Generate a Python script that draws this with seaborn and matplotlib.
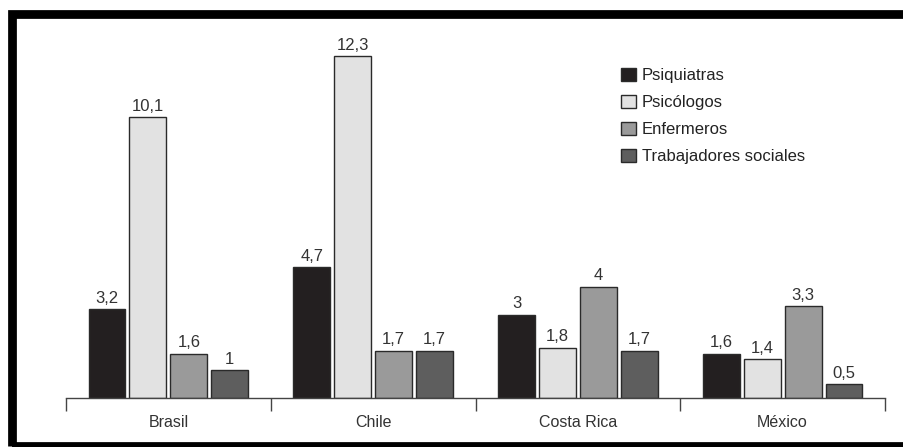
import matplotlib
matplotlib.use("Agg")
import matplotlib.pyplot as plt
import seaborn as sns
import pandas as pd
from matplotlib.patches import Rectangle

countries = ["Brasil", "Chile", "Costa Rica", "México"]
professions = ["Psiquiatras", "Psicólogos", "Enfermeros", "Trabajadores sociales"]
psiquiatras = [3.2, 4.7, 3.0, 1.6]
psicologos = [10.1, 12.3, 1.8, 1.4]
enfermeros = [1.6, 1.7, 4.0, 3.3]
trabajadores = [1.0, 1.7, 1.7, 0.5]

series = [psiquiatras, psicologos, enfermeros, trabajadores]
rows = []
for prof, vals in zip(professions, series):
    for c, v in zip(countries, vals):
        rows.append({"País": c, "Profesión": prof, "Valor": v})
df = pd.DataFrame(rows)

palette = {"Psiquiatras": "#231f20", "Psicólogos": "#e2e2e2",
           "Enfermeros": "#9a9a9a", "Trabajadores sociales": "#5e5e5e"}

sns.set_theme(style="white")
plt.rcParams['font.family'] = ['Liberation Sans', 'DejaVu Sans']

W, H = 904, 447
fig = plt.figure(figsize=(W / 100, H / 100), dpi=100)
ax_left, ax_right = 66, 885
ax_bottom_px = 398
ymax = 13.5
px_per_unit = 27.8
ax_top_px = ax_bottom_px - ymax * px_per_unit
ax = fig.add_axes([ax_left / W, 1 - ax_bottom_px / H,
                   (ax_right - ax_left) / W, (ax_bottom_px - ax_top_px) / H])

sns.barplot(data=df, x="País", y="Valor", hue="Profesión", order=countries,
            hue_order=professions, palette=palette, width=0.8, gap=0.1,
            edgecolor="#2a2a2a", linewidth=1.0, saturation=1, ax=ax,
            errorbar=None)

for cont in ax.containers:
    labels = [f"{v:g}".replace(".", ",") for v in cont.datavalues]
    ax.bar_label(cont, labels=labels, padding=2.5, fontsize=12, color="#333333")

ax.set_xlim(-0.5, 3.5)
ax.set_ylim(0, ymax)
ax.set_xlabel("")
ax.set_ylabel("")
ax.set_yticks([])
for s in ["top", "right", "left"]:
    ax.spines[s].set_visible(False)
ax.spines["bottom"].set_color("#444444")
ax.spines["bottom"].set_linewidth(1.0)
ax.set_xticks([-0.5, 0.5, 1.5, 2.5, 3.5], minor=True)
ax.tick_params(axis="x", which="minor", bottom=True, length=9, width=1.0,
               color="#444444", direction="out")
ax.tick_params(axis="x", which="major", length=0, pad=12, labelsize=11.5,
               labelcolor="#333333")

leg = ax.get_legend()
if leg is not None:
    leg.remove()
handles = [Rectangle((0, 0), 1, 1, facecolor=palette[p], edgecolor="#2a2a2a",
                     linewidth=1.0) for p in professions]
fig.legend(handles, professions, loc="upper left",
           bbox_to_anchor=(621 / W, 1 - 67.5 / H), frameon=False,
           borderpad=0, borderaxespad=0, handlelength=0.9, handleheight=0.9,
           handletextpad=0.36, labelspacing=0.68, fontsize=12,
           labelcolor="#222222")

# thick frame (top, left, bottom; right edge cut off)
border = Rectangle((12.5 / W, 1 - 446 / H), (W + 20) / W, (446 - 14) / H,
                   transform=fig.transFigure, fill=False, edgecolor="black",
                   linewidth=6.3, clip_on=False)
fig.patches.append(border)

fig.savefig("out.png", dpi=100)
